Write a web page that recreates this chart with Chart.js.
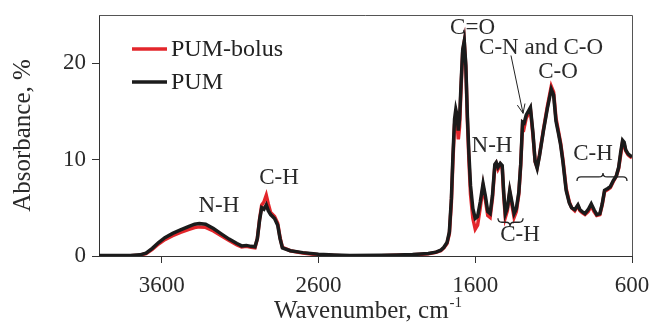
<!DOCTYPE html>
<html>
<head>
<meta charset="utf-8">
<script src="https://cdn.jsdelivr.net/npm/chart.js@4.4.1/dist/chart.umd.min.js"></script>
<style>
  html, body { margin: 0; padding: 0; background: #fff; }
  #wrap { width: 653px; height: 322px; }
</style>
</head>
<body>
<div id="wrap"><canvas id="spectre" width="653" height="322"></canvas></div>
<script>
// FTIR spectra (wavenumber in cm-1, absorbance in %)
const wavenumbers = [
  4000, 3900, 3800, 3740, 3700, 3660, 3620, 3580, 3530, 3480, 3430, 3390, 3360, 3320, 3270, 3220,
  3170, 3120, 3090, 3060, 3030, 3005, 2990, 2975, 2962, 2948, 2933, 2920, 2905, 2880, 2860, 2845,
  2830, 2780, 2700, 2600, 2500, 2400, 2200, 2100, 2000, 1900, 1850, 1820, 1800, 1780, 1765, 1752,
  1742, 1732, 1724, 1716, 1708, 1700, 1690, 1680, 1670, 1660, 1650, 1640, 1630, 1615, 1600, 1585,
  1568, 1550, 1535, 1520, 1505, 1490, 1475, 1466, 1455, 1440, 1428, 1418, 1408, 1395, 1380, 1366,
  1352, 1338, 1322, 1310, 1298, 1288, 1275, 1248, 1232, 1218, 1205, 1190, 1165, 1140, 1115, 1100,
  1085, 1070, 1055, 1040, 1020, 1000, 985, 965, 945, 932, 918, 900, 880, 860, 842, 825,
  805, 790, 775, 755, 738, 720, 700, 685, 672, 660, 650, 640, 625, 610, 600
];

const pum = [
  0.05, 0.04, 0.05, 0.12, 0.3, 0.8, 1.4, 1.9, 2.35, 2.7, 3.05, 3.3, 3.38, 3.3, 2.85, 2.3,
  1.75, 1.3, 1.05, 1.1, 1.0, 0.95, 1.8, 3.8, 5.0, 4.85, 5.3, 4.7, 4.3, 3.9, 3.2, 1.8,
  0.85, 0.55, 0.35, 0.18, 0.1, 0.05, 0.08, 0.1, 0.15, 0.25, 0.4, 0.6, 0.9, 1.4, 2.5, 6.0,
  10.5, 14.2, 15.2, 14.6, 13.0, 14.2, 18.0, 21.4, 22.3, 19.8, 14.5, 10.5, 7.3, 4.9, 3.9, 4.1,
  5.6, 7.5, 6.2, 4.6, 4.4, 6.3, 9.5, 9.7, 9.2, 9.6, 9.4, 6.5, 4.4, 5.0, 6.8, 5.6,
  4.4, 4.9, 6.6, 9.5, 13.9, 13.8, 14.6, 15.4, 12.8, 9.8, 9.1, 10.4, 13.0, 15.3, 17.3, 16.7,
  14.0, 12.8, 11.5, 9.7, 6.8, 5.5, 5.0, 4.8, 5.3, 4.8, 4.6, 4.4, 4.8, 5.4, 4.8, 4.3,
  4.4, 5.4, 6.8, 7.0, 7.2, 7.8, 8.3, 9.2, 10.8, 12.0, 11.8, 11.0, 10.6, 10.4, 10.3
];

const pumBolus = [
  0.02, 0.0, 0.02, 0.08, 0.25, 0.7, 1.25, 1.7, 2.1, 2.45, 2.75, 2.95, 3.02, 2.97, 2.6, 2.1,
  1.6, 1.15, 0.95, 1.0, 0.9, 0.85, 1.8, 3.9, 5.3, 5.6, 6.3, 5.4, 4.5, 4.1, 3.4, 1.9,
  0.9, 0.55, 0.3, 0.12, 0.05, 0.0, 0.02, 0.08, 0.12, 0.22, 0.38, 0.55, 0.85, 1.3, 2.3, 5.6,
  10.0, 13.6, 14.6, 13.8, 12.1, 13.4, 17.6, 21.2, 22.2, 19.6, 14.0, 9.8, 6.4, 3.9, 2.8, 3.2,
  5.0, 7.2, 5.8, 4.2, 4.0, 6.0, 9.3, 9.6, 9.0, 9.5, 9.2, 6.2, 4.0, 4.7, 6.6, 5.3,
  4.0, 4.6, 6.4, 9.4, 13.6, 13.3, 14.3, 15.2, 12.6, 9.8, 9.2, 10.5, 13.1, 15.5, 17.6, 17.0,
  14.3, 13.0, 11.7, 9.9, 7.0, 5.6, 5.0, 4.7, 5.2, 4.7, 4.5, 4.3, 4.6, 5.2, 4.6, 4.2,
  4.3, 5.3, 6.7, 6.9, 7.1, 7.7, 8.3, 9.1, 10.5, 11.8, 11.6, 10.9, 10.5, 10.3, 10.2
];

const xTicks = [3600, 2600, 1600, 600];
const yTicks = [0, 10, 20];

// band labels, placed in data units
const bandLabels = [
  { text: 'N-H', wn: 3235, abs: 5.2 },
  { text: 'C-H', wn: 2852, abs: 8.07 },
  { text: 'C=O', wn: 1617, abs: 23.7 },
  { text: 'C-N and C-O', wn: 1180, abs: 21.56 },
  { text: 'C-O', wn: 1072, abs: 19.1 },
  { text: 'N-H', wn: 1493, abs: 11.46 },
  { text: 'C-H', wn: 1314, abs: 2.14 },
  { text: 'C-H', wn: 849, abs: 10.57 }
];

const FONT = "'Liberation Serif', 'DejaVu Serif', serif";
const RED = '#e3262b';
const BLACK = '#1b1b1b';

function points(values) {
  return wavenumbers.map((w, i) => ({ x: w, y: values[i] }));
}

// curly brace: tip > 0 points down, tip < 0 points up
function brace(ctx, x1, x2, xm, y, tip) {
  const q = 4;
  ctx.beginPath();
  ctx.moveTo(x1, y - tip);
  ctx.quadraticCurveTo(x1, y, x1 + q, y);
  ctx.lineTo(xm - q, y);
  ctx.quadraticCurveTo(xm, y, xm, y + tip);
  ctx.quadraticCurveTo(xm, y, xm + q, y);
  ctx.lineTo(x2 - q, y);
  ctx.quadraticCurveTo(x2, y, x2, y - tip);
  ctx.stroke();
}

const decorations = {
  id: 'decorations',
  afterDraw(chart) {
    const { ctx, chartArea: a, scales: { x, y } } = chart;
    ctx.save();

    // frame top + right
    ctx.strokeStyle = '#555';
    ctx.lineWidth = 1;
    ctx.beginPath();
    ctx.moveTo(a.left, a.top + 0.5);
    ctx.lineTo(a.right + 0.5, a.top + 0.5);
    ctx.lineTo(a.right + 0.5, a.bottom);
    ctx.stroke();

    // legend
    const items = [
      { label: chart.data.datasets[0].label, color: RED, dy: 34 },
      { label: chart.data.datasets[1].label, color: BLACK, dy: 67 }
    ];
    ctx.font = '24px ' + FONT;
    ctx.textBaseline = 'middle';
    ctx.textAlign = 'left';
    items.forEach(it => {
      ctx.strokeStyle = it.color;
      ctx.lineWidth = 3.5;
      ctx.beginPath();
      ctx.moveTo(a.left + 33, a.top + it.dy);
      ctx.lineTo(a.left + 68, a.top + it.dy);
      ctx.stroke();
      ctx.fillStyle = '#222';
      ctx.fillText(it.label, a.left + 72, a.top + it.dy + 1);
    });

    // band labels
    ctx.font = '23px ' + FONT;
    ctx.textAlign = 'center';
    ctx.fillStyle = '#2a2a2a';
    bandLabels.forEach(b => {
      ctx.fillText(b.text, x.getPixelForValue(b.wn), y.getPixelForValue(b.abs));
    });

    // braces
    ctx.strokeStyle = '#222';
    ctx.lineWidth = 1.3;
    brace(ctx, x.getPixelForValue(1455), x.getPixelForValue(1295), x.getPixelForValue(1378),
      y.getPixelForValue(3.5), 4);
    brace(ctx, x.getPixelForValue(951), x.getPixelForValue(632), x.getPixelForValue(785),
      y.getPixelForValue(8.2), -4);

    // arrow
    const ax1 = x.getPixelForValue(1372), ay1 = y.getPixelForValue(20.8);
    const ax2 = x.getPixelForValue(1295), ay2 = y.getPixelForValue(14.8);
    const ang = Math.atan2(ay2 - ay1, ax2 - ax1);
    ctx.lineWidth = 1;
    ctx.beginPath();
    ctx.moveTo(ax1, ay1);
    ctx.lineTo(ax2, ay2);
    ctx.moveTo(ax2 - 10 * Math.cos(ang - 0.4), ay2 - 10 * Math.sin(ang - 0.4));
    ctx.lineTo(ax2, ay2);
    ctx.lineTo(ax2 - 10 * Math.cos(ang + 0.4), ay2 - 10 * Math.sin(ang + 0.4));
    ctx.stroke();

    // x axis title with superscript
    ctx.fillStyle = '#2a2a2a';
    ctx.textAlign = 'left';
    ctx.textBaseline = 'alphabetic';
    const main = 'Wavenumber, cm';
    ctx.font = '25px ' + FONT;
    const w1 = ctx.measureText(main).width;
    ctx.font = '15px ' + FONT;
    const w2 = ctx.measureText('-1').width;
    const x0 = (a.left + a.right) / 2 + 2 - (w1 + w2) / 2;
    ctx.font = '25px ' + FONT;
    ctx.fillText(main, x0, 318);
    ctx.font = '15px ' + FONT;
    ctx.fillText('-1', x0 + w1 + 1, 307);

    ctx.restore();
  }
};

new Chart(document.getElementById('spectre'), {
  type: 'line',
  data: {
    datasets: [
      {
        label: 'PUM-bolus',
        data: points(pumBolus),
        borderColor: RED,
        borderWidth: 3.5,
        pointRadius: 0,
        tension: 0,
        order: 2
      },
      {
        label: 'PUM',
        data: points(pum),
        borderColor: BLACK,
        borderWidth: 3.5,
        pointRadius: 0,
        tension: 0,
        order: 1
      }
    ]
  },
  options: {
    responsive: false,
    devicePixelRatio: 1,
    animation: false,
    layout: { padding: { left: 0, right: 21, top: 15, bottom: 0 } },
    plugins: {
      legend: { display: false },
      tooltip: { enabled: false }
    },
    scales: {
      x: {
        type: 'linear',
        reverse: true,
        min: 600,
        max: 4000,
        afterBuildTicks: s => { s.ticks = xTicks.map(v => ({ value: v })); },
        afterFit: s => { s.height = 66; s.paddingLeft = 0; s.paddingRight = 0; },
        ticks: {
          autoSkip: false,
          maxRotation: 0,
          padding: 9,
          color: '#2a2a2a',
          font: { family: FONT, size: 23 },
          callback: v => String(v)
        },
        grid: { drawOnChartArea: false, tickLength: 7, color: '#333' },
        border: { color: '#333', width: 1 }
      },
      y: {
        min: 0,
        max: 25,
        afterBuildTicks: s => { s.ticks = yTicks.map(v => ({ value: v })); },
        afterFit: s => { s.width = 99; s.paddingTop = 0; s.paddingBottom = 0; },
        title: {
          display: true,
          text: 'Absorbance, %',
          color: '#2a2a2a',
          font: { family: FONT, size: 25 },
          padding: { top: 8, bottom: 0 }
        },
        ticks: {
          padding: 6,
          color: '#2a2a2a',
          font: { family: FONT, size: 23 },
          callback: v => String(v)
        },
        grid: { drawOnChartArea: false, tickLength: 7, color: '#333' },
        border: { color: '#333', width: 1 }
      }
    }
  },
  plugins: [decorations]
});
</script>
</body>
</html>
